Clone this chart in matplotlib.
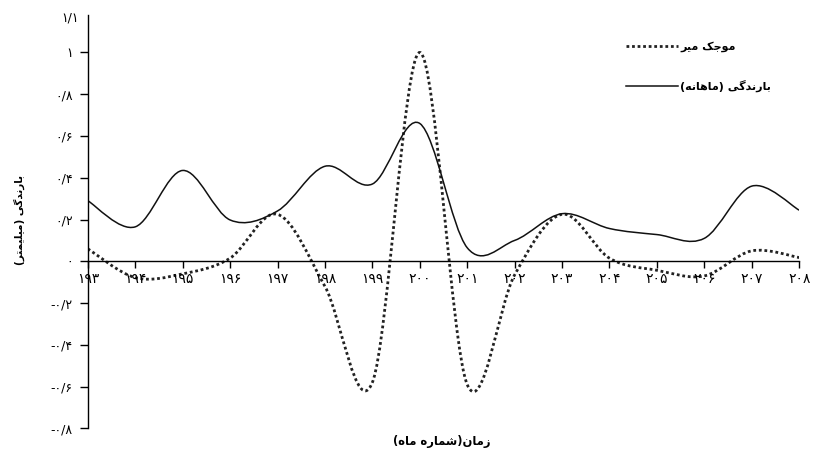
import matplotlib
matplotlib.use("Agg")
import matplotlib.pyplot as plt
from matplotlib.path import Path
from matplotlib.patches import PathPatch
from matplotlib.lines import Line2D

# month numbers on the x axis
months = list(range(193, 209))

# monthly rainfall (solid line)
rain = [0.29, 0.165, 0.435, 0.198, 0.241, 0.455, 0.37, 0.66,
        0.065, 0.10, 0.228, 0.157, 0.128, 0.11, 0.36, 0.245]

# wavelet curve (dotted line)
wavelet = [0.06, -0.078, -0.06, 0.015, 0.225, -0.12, -0.58, 1.0,
           -0.59, -0.065, 0.225, 0.015, -0.043, -0.07, 0.05, 0.018]

y_ticks = [-0.8, -0.6, -0.4, -0.2, 0, 0.2, 0.4, 0.6, 0.8, 1.0]

# Persian letters -> (isolated, final, initial, medial)
FORMS = {
    "ا": ("\uFE8D", "\uFE8E", None, None),
    "ب": ("\uFE8F", "\uFE90", "\uFE91", "\uFE92"),
    "ت": ("\uFE95", "\uFE96", "\uFE97", "\uFE98"),
    "ج": ("\uFE9D", "\uFE9E", "\uFE9F", "\uFEA0"),
    "د": ("\uFEA9", "\uFEAA", None, None),
    "ر": ("\uFEAD", "\uFEAE", None, None),
    "ز": ("\uFEAF", "\uFEB0", None, None),
    "ش": ("\uFEB5", "\uFEB6", "\uFEB7", "\uFEB8"),
    "ل": ("\uFEDD", "\uFEDE", "\uFEDF", "\uFEE0"),
    "م": ("\uFEE1", "\uFEE2", "\uFEE3", "\uFEE4"),
    "ن": ("\uFEE5", "\uFEE6", "\uFEE7", "\uFEE8"),
    "ه": ("\uFEE9", "\uFEEA", "\uFEEB", "\uFEEC"),
    "و": ("\uFEED", "\uFEEE", None, None),
    "ی": ("\uFBFC", "\uFBFD", "\uFBFE", "\uFBFF"),
    "ک": ("\uFB8E", "\uFB8F", "\uFB90", "\uFB91"),
    "گ": ("\uFB92", "\uFB93", "\uFB94", "\uFB95"),
}


def fa(text):
    # shape Persian letters and put them in visual (left to right) order
    out = []
    for i, ch in enumerate(text):
        if ch not in FORMS:
            out.append(ch)
            continue
        prev = text[i - 1] if i > 0 else ""
        nxt = text[i + 1] if i + 1 < len(text) else ""
        join_prev = prev in FORMS and FORMS[prev][2] is not None
        join_next = nxt in FORMS and FORMS[ch][2] is not None
        iso, fin, ini, med = FORMS[ch]
        if join_prev and join_next:
            out.append(med)
        elif join_prev:
            out.append(fin)
        elif join_next:
            out.append(ini)
        else:
            out.append(iso)
    vis = "".join(reversed(out))
    return vis.translate(str.maketrans("()", ")("))


FA_DIGITS = str.maketrans("0123456789.", "۰۱۲۳۴۵۶۷۸۹/")


def fa_num(v):
    s = "%g" % v
    if s.startswith("-"):
        return "-" + s[1:].translate(FA_DIGITS)
    return s.translate(FA_DIGITS)


def smooth_path(xs, ys):
    # excel-like smoothed line: cubic bezier through every point
    n = len(xs)
    verts = [(xs[0], ys[0])]
    codes = [Path.MOVETO]
    for i in range(n - 1):
        i0 = max(i - 1, 0)
        i3 = min(i + 2, n - 1)
        c1 = (xs[i] + (xs[i + 1] - xs[i0]) / 6.0, ys[i] + (ys[i + 1] - ys[i0]) / 6.0)
        c2 = (xs[i + 1] - (xs[i3] - xs[i]) / 6.0, ys[i + 1] - (ys[i3] - ys[i]) / 6.0)
        verts += [c1, c2, (xs[i + 1], ys[i + 1])]
        codes += [Path.CURVE4] * 3
    return Path(verts, codes)


plt.rcParams["font.family"] = ["DejaVu Sans"]

fig = plt.figure(figsize=(8.13, 4.5), dpi=100)
ax = fig.add_axes([0.108, 0.048, 0.875, 0.919])

wave_style = dict(color="#222222", lw=2.0, dashes=(1, 1))
rain_style = dict(color="#111111", lw=1.1)

ax.add_patch(PathPatch(smooth_path(months, wavelet), fill=False,
                       edgecolor=wave_style["color"], lw=wave_style["lw"],
                       linestyle=(0, (1, 1)), capstyle="butt"))
ax.add_patch(PathPatch(smooth_path(months, rain), fill=False,
                       edgecolor=rain_style["color"], lw=rain_style["lw"]))

ax.set_xlim(193, 208)
ax.set_ylim(-0.8, 1.18)

ax.spines["top"].set_visible(False)
ax.spines["right"].set_visible(False)
ax.spines["bottom"].set_position(("data", 0))
for s in ("left", "bottom"):
    ax.spines[s].set_linewidth(1.0)

ax.set_xticks(months)
ax.set_xticklabels([fa_num(m) for m in months], fontsize=10)
ax.set_yticks(y_ticks)
ax.set_yticklabels([fa_num(v) for v in y_ticks], fontsize=9)
ax.tick_params(axis="x", direction="out", length=5, width=1, pad=3)
ax.tick_params(axis="y", direction="out", length=6, width=1, pad=5)
ax.text(-0.012, 1.165, fa_num(1.1), transform=ax.get_yaxis_transform(),
        ha="right", va="center", fontsize=9)

fig.text(0.024, 0.511, fa("بارندگی (میلیمتر)"), rotation=90, ha="center",
         va="center", fontsize=7.5, fontweight="bold")
fig.text(0.543, 0.018, fa("زمان(شماره ماه)"), ha="center", va="center",
         fontsize=8.3, fontweight="bold")

handles = [Line2D([], [], **wave_style), Line2D([], [], **rain_style)]
labels = [fa("موجک میر"), fa("بارندگی (ماهانه)")]
ax.legend(handles, labels, loc="upper left", bbox_to_anchor=(0.742, 0.96),
          frameon=False, handlelength=4.7, handletextpad=0.2, labelspacing=2.5,
          prop={"size": 8, "weight": "bold"})

fig.savefig("out.png", dpi=100)
